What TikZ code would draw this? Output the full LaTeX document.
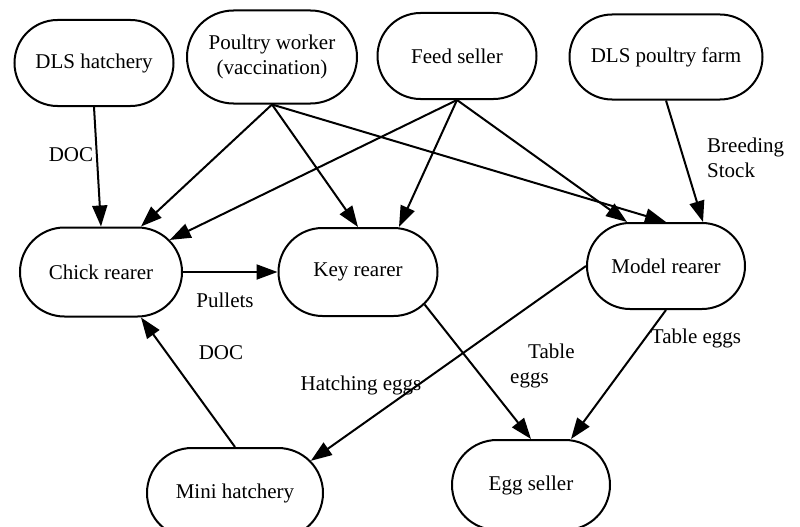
\documentclass[tikz,border=0pt]{standalone}
\usepackage{fontspec}
\setmainfont{Liberation Serif}
\usetikzlibrary{arrows.meta, positioning, calc, shapes.misc}

\tikzset{
  actor/.style={draw, rounded rectangle, line width=2pt, inner sep=0pt, align=center},
  flow/.style={-{Triangle[length=21pt,width=15pt]}, line width=2pt},
  lbl/.style={inner sep=0pt, align=left}
}

\begin{document}
\begin{tikzpicture}[x=1pt, y=-1pt, font=\fontsize{21}{25}\selectfont]
  \useasboundingbox (0,0) rectangle (800,527);
  % top row
  \node[actor, minimum width=159pt, minimum height=86pt] (dlsh) at (94,63) {DLS hatchery};
  \node[actor, minimum width=170pt, minimum height=93pt] (pw) at (272,57) {Poultry worker\\(vaccination)};
  \node[actor, minimum width=159pt, minimum height=86pt] (feed) at (457,56) {Feed seller};
  \node[actor, minimum width=193pt, minimum height=85pt] (dlsf) at (666,57) {DLS poultry farm};
  % rearers
  \node[actor, minimum width=162pt, minimum height=89pt] (chick) at (101,272) {Chick rearer};
  \node[actor, minimum width=159pt, minimum height=88pt] (key) at (358,272) {Key rearer};
  \node[actor, minimum width=158pt, minimum height=86pt] (model) at (666,266) {Model rearer};
  % bottom row
  \node[actor, minimum width=176pt, minimum height=90pt] (mini) at (235,493) {Mini hatchery};
  \node[actor, minimum width=158pt, minimum height=90pt] (egg) at (531,485) {Egg seller};

  \draw[flow] (dlsh.south) -- (chick.north);
  \draw[flow] (pw.south) -- ($(chick.north)+(40,0)$);
  \draw[flow] (pw.south) -- (key.north);
  \draw[flow] (pw.south) -- (model.north);
  \draw[flow] (feed.south) -- (chick.25);
  \draw[flow] (feed.south) -- ($(key.north)+(41,0)$);
  \draw[flow] (feed.south) -- ($(model.north)+(-39,0)$);
  \draw[flow] (dlsf.south) -- ($(model.north)+(37,0)$);
  \draw[flow] (chick.east) -- (key.west);
  \draw[flow] (mini.north) -- ($(chick.south)+(40,0)$);
  \draw[flow] (model.west) -- (mini.23);
  \draw[flow] (key.-26) -- (egg.north);
  \draw[flow] (model.south) -- ($(egg.north)+(40,0)$);

  % edge labels
  \node[lbl] (l1) at (71,155) {DOC};
  \node[lbl, anchor=west] (l2) at (707,158) {Breeding\\Stock};
  \node[lbl] (l3) at (225,300) {Pullets};
  \node[lbl] (l4) at (221,353) {DOC};
  \node[lbl] (l5) at (361,385) {Hatching eggs};
  \node[lbl] (l6) at (696,338) {Table eggs};
  \node[lbl, anchor=west] (l7) at (510,366) {\hspace{18pt}Table\\eggs};
\end{tikzpicture}
\end{document}
